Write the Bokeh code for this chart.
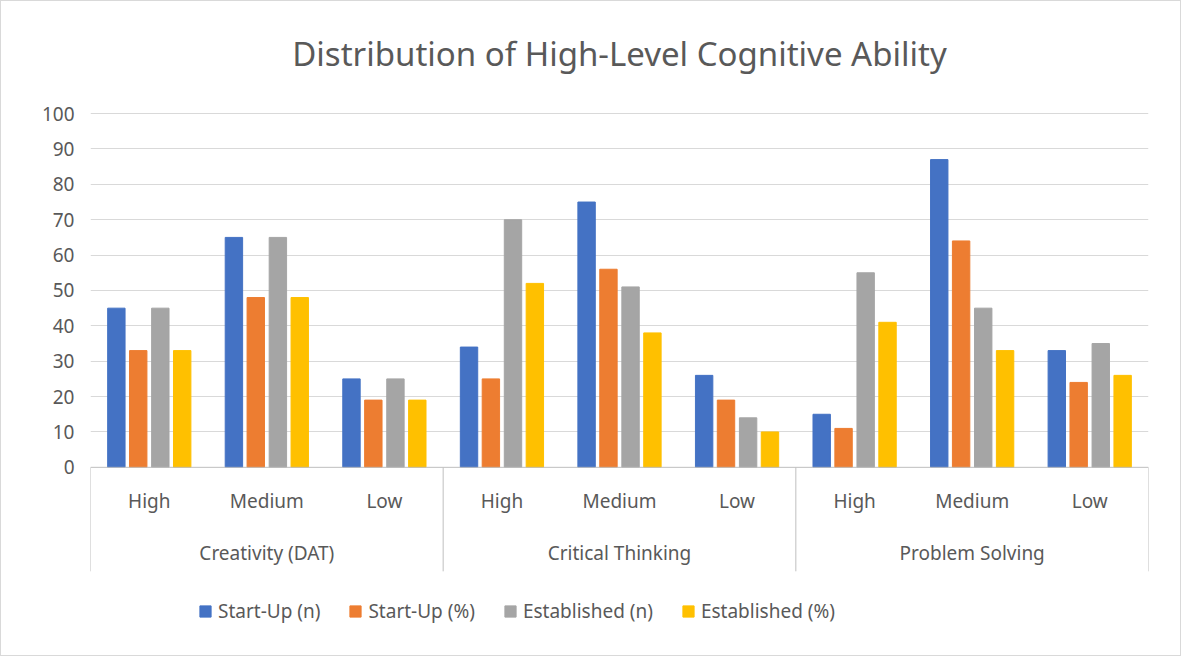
from bokeh.plotting import figure
from bokeh.models import ColumnDataSource, FixedTicker, Legend, LegendItem
from bokeh.transform import dodge
from bokeh.core.properties import value
from bokeh.embed import file_html
from bokeh.resources import INLINE

groups = ["Creativity (DAT)", "Critical Thinking", "Problem Solving"]
levels = ["High", "Medium", "Low"]
series = ["Start-Up (n)", "Start-Up (%)", "Established (n)", "Established (%)"]
startup_n = [45, 65, 25, 34, 75, 26, 15, 87, 33]
startup_pct = [33, 48, 19, 25, 56, 19, 11, 64, 24]
established_n = [45, 65, 25, 70, 51, 14, 55, 45, 35]
established_pct = [33, 48, 19, 52, 38, 10, 41, 33, 26]
y_ticks = list(range(0, 101, 10))

colors = ["#4472C4", "#ED7D31", "#A5A5A5", "#FFC000"]
font = "Noto Sans"
grey = "#595959"

xs = [i + 0.5 for i in range(len(startup_n))]
src = ColumnDataSource(dict(x=xs, a=startup_n, b=startup_pct, c=established_n, d=established_pct,
                            lab=[levels[i % 3] for i in range(9)]))

p = figure(width=1181, height=656, x_range=(0, 9), y_range=(-45, 130),
           output_backend="svg", toolbar_location=None,
           min_border_left=89, min_border_right=34, min_border_top=6, min_border_bottom=31)
p.outline_line_color = None
p.xaxis.visible = False
p.xgrid.visible = False
p.yaxis.ticker = FixedTicker(ticks=y_ticks)
p.yaxis.axis_line_color = None
p.yaxis.major_tick_line_color = None
p.yaxis.minor_tick_line_color = None
p.yaxis.major_label_text_font = font
p.yaxis.major_label_text_font_size = "19px"
p.yaxis.major_label_text_color = grey
p.yaxis.major_label_standoff = 10
p.ygrid.ticker = FixedTicker(ticks=y_ticks[1:])
p.ygrid.grid_line_color = "#d9d9d9"

offsets = [-0.28, -0.094, 0.094, 0.28]
items = []
for field, off, col, name in zip("abcd", offsets, colors, series):
    r = p.vbar(x=dodge("x", off), top=field, bottom=0, width=0.148, color=col, source=src)
    items.append(LegendItem(label=name, renderers=[r]))

# axis line and group separators
p.segment(x0=[0], y0=[0], x1=[9], y1=[0], line_color="#bfbfbf", line_width=1)
seps = [0, 3, 6, 9]
p.segment(x0=seps, y0=[0] * 4, x1=seps, y1=[-29.4] * 4, line_color="#bfbfbf", line_width=1)

p.text(x="x", y=-9.6, text="lab", source=src, text_align="center", text_baseline="middle",
       text_font=value(font), text_font_size="19px", text_color=grey)
p.text(x=[1.5, 4.5, 7.5], y=[-24.3] * 3, text=groups, text_align="center", text_baseline="middle",
       text_font=value(font), text_font_size="19px", text_color=grey)
p.text(x=[4.5], y=[117], text=["Distribution of High-Level Cognitive Ability"],
       text_align="center", text_baseline="middle",
       text_font=value(font), text_font_size="33px", text_color=grey)

legend = Legend(items=items, orientation="horizontal", location=(108, 2),
                label_text_font=font, label_text_font_size="19px", label_text_color=grey,
                glyph_width=14, glyph_height=14, spacing=28, label_standoff=6,
                border_line_color=None, background_fill_alpha=0)
p.add_layout(legend)
p.styles = {"border": "1px solid #d9d9d9", "box-sizing": "border-box"}

open("out.html", "w").write(file_html(p, INLINE))
